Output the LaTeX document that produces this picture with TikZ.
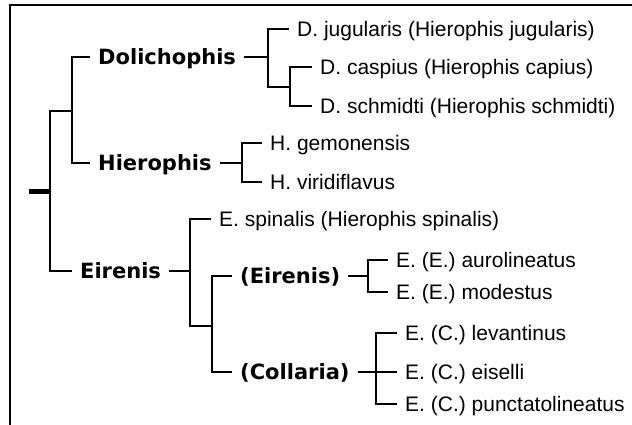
\documentclass[tikz,border=0pt]{standalone}
\usepackage{fontspec}
\setmainfont{Liberation Sans}
\newfontfamily\cladefont{DejaVu Sans}
\usetikzlibrary{positioning}
\tikzset{
  branch/.style={line width=1.7pt},
  taxon/.style={anchor=west,inner xsep=8pt,inner ysep=0pt,text height=18pt,text depth=3pt,
    font=\fontsize{21}{25}\selectfont},
  clade/.style={taxon,font=\cladefont\bfseries\fontsize{21}{25}\selectfont},
}

\begin{document}
\begin{tikzpicture}[x=1pt,y=-1pt]
  \useasboundingbox (0,0) rectangle (632,425);
  \draw[line width=2pt] (632,5) -- (10,5) -- (10,425);

  \node[clade] (dol) at (90,57) {Dolichophis};
  \node[clade] (hie) at (90,163) {Hierophis};
  \node[clade] (eir) at (72,271) {Eirenis};
  \node[taxon] (jug) at (289,29) {D. jugularis (Hierophis jugularis)};
  \node[taxon] (cas) at (312,67) {D. caspius (Hierophis capius)};
  \node[taxon] (sch) at (312,106) {D. schmidti (Hierophis schmidti)};
  \node[taxon] (gem) at (262,143) {H. gemonensis};
  \node[taxon] (vir) at (262,182) {H. viridiflavus};
  \node[taxon] (spi) at (211,219) {E. spinalis (Hierophis spinalis)};
  \node[clade] (seir) at (232,276) {(Eirenis)};
  \node[clade] (scol) at (232,372) {(Collaria)};
  \node[taxon] (aur) at (388,260) {E. (E.) aurolineatus};
  \node[taxon] (mod) at (388,292) {E. (E.) modestus};
  \node[taxon] (lev) at (397,333) {E. (C.) levantinus};
  \node[taxon] (eis) at (397,372) {E. (C.) eiselli};
  \node[taxon] (pun) at (397,404) {E. (C.) punctatolineatus};

  \coordinate (root) at (29,191);
  \coordinate (j0) at (50,191);
  \coordinate (j1) at (72,111);
  \coordinate (j2) at (268,57);
  \coordinate (j3) at (290,87);
  \coordinate (j4) at (242,163);
  \coordinate (j5) at (190,271);
  \coordinate (j6) at (212,326);
  \coordinate (j7) at (368,276);
  \coordinate (j8) at (376,372);

  \draw[line width=5pt] (root) -- (j0);
  \draw[branch] (j0) |- (j1); \draw[branch] (j0) |- (eir.west);
  \draw[branch] (j1) |- (dol.west); \draw[branch] (j1) |- (hie.west);
  \draw[branch] (dol.east) -- (j2) |- (jug.west); \draw[branch] (j2) |- (j3);
  \draw[branch] (j3) |- (cas.west); \draw[branch] (j3) |- (sch.west);
  \draw[branch] (hie.east) -- (j4) |- (gem.west); \draw[branch] (j4) |- (vir.west);
  \draw[branch] (eir.east) -- (j5) |- (spi.west); \draw[branch] (j5) |- (j6);
  \draw[branch] (j6) |- (seir.west); \draw[branch] (j6) |- (scol.west);
  \draw[branch] (seir.east) -- (j7) |- (aur.west); \draw[branch] (j7) |- (mod.west);
  \draw[branch] (scol.east) -- (j8) |- (lev.west); \draw[branch] (j8) |- (pun.west);
  \draw[branch] (j8) -- (eis.west);
\end{tikzpicture}
\end{document}
